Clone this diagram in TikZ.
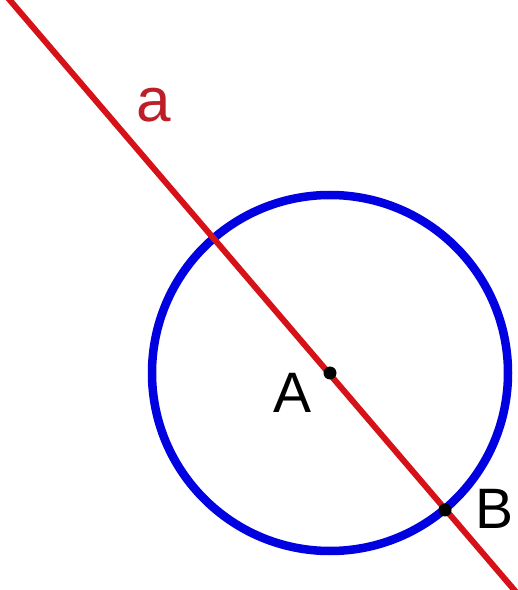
\documentclass[tikz,border=0pt]{standalone}
\usepackage{fontspec}
\setmainfont{Liberation Sans}
\definecolor{linered}{RGB}{214,18,24}
\definecolor{labelred}{RGB}{190,30,40}
\definecolor{circblue}{RGB}{0,0,225}
\tikzset{
  pt/.style={circle,fill=black,inner sep=0pt,minimum size=13pt},
  lbl/.style={inner sep=0pt,font=\fontsize{57}{60}\selectfont},
  linelbl/.style={inner sep=0pt,text=labelred,font=\fontsize{62}{66}\selectfont},
}
\begin{document}
\begin{tikzpicture}[x=1pt,y=1pt]
\useasboundingbox (0,0) rectangle (518,590);
\clip (0,0) rectangle (518,590);
\coordinate (A) at (330,217);
\coordinate (B) at (445,80);
\coordinate (top) at (8,592);
\coordinate (bot) at (516,-2);
\draw[circblue,line width=8.5pt] (A) circle[radius=178];
\draw[linered,line width=6pt] (top) -- (bot);
\node[pt] (Adot) at (A) {};
\node[pt] (Bdot) at (B) {};
\node[lbl] (Alab) at (293,197) {A};
\node[lbl] (Blab) at (495,81) {B};
\node[linelbl] (alab) at (154,485) {a};
\end{tikzpicture}
\end{document}
